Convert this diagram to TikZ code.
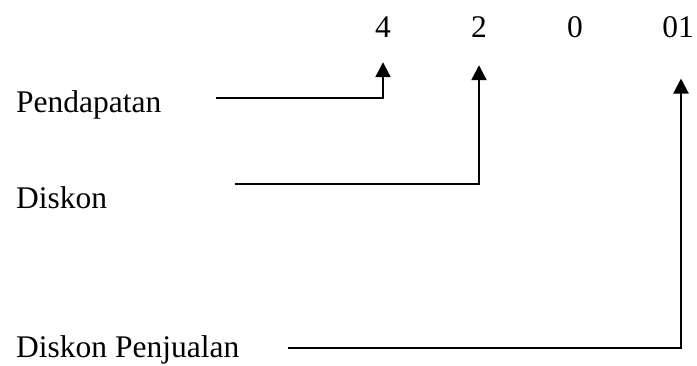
\documentclass[tikz,border=0pt]{standalone}
\usepackage{fontspec}
\setmainfont{Liberation Serif}
\usetikzlibrary{arrows.meta}
\begin{document}
\begin{tikzpicture}[x=1pt,y=1pt,
  lbl/.style={inner sep=0pt,anchor=base west,font=\fontsize{31.5}{36}\selectfont},
  digit/.style={inner sep=0pt,anchor=base,font=\fontsize{31.5}{36}\selectfont},
  conn/.style={line width=2.2pt,-{Triangle[width=15pt,length=15pt]}}]
\useasboundingbox (0,0) rectangle (697,-365);
\node[lbl] (pend) at (16,-112) {Pendapatan};
\node[lbl] (disk) at (16,-208) {Diskon};
\node[lbl] (diskp) at (16,-357) {Diskon Penjualan};
\node[digit] (d4) at (383,-37) {4};
\node[digit] (d2) at (479,-37) {2};
\node[digit] (d0) at (575,-37) {0};
\node[digit] (d01) at (678,-37) {01};
\coordinate (s1) at (216,-98);
\coordinate (s2) at (235,-184);
\coordinate (s3) at (288,-348);
\draw[conn,shorten >=25pt] (s1) -| (d4.south);
\draw[conn,shorten >=28pt] (s2) -| (d2.south);
\draw[conn,shorten >=41pt] (s3) -| ([xshift=3pt]d01.south);
\end{tikzpicture}
\end{document}
